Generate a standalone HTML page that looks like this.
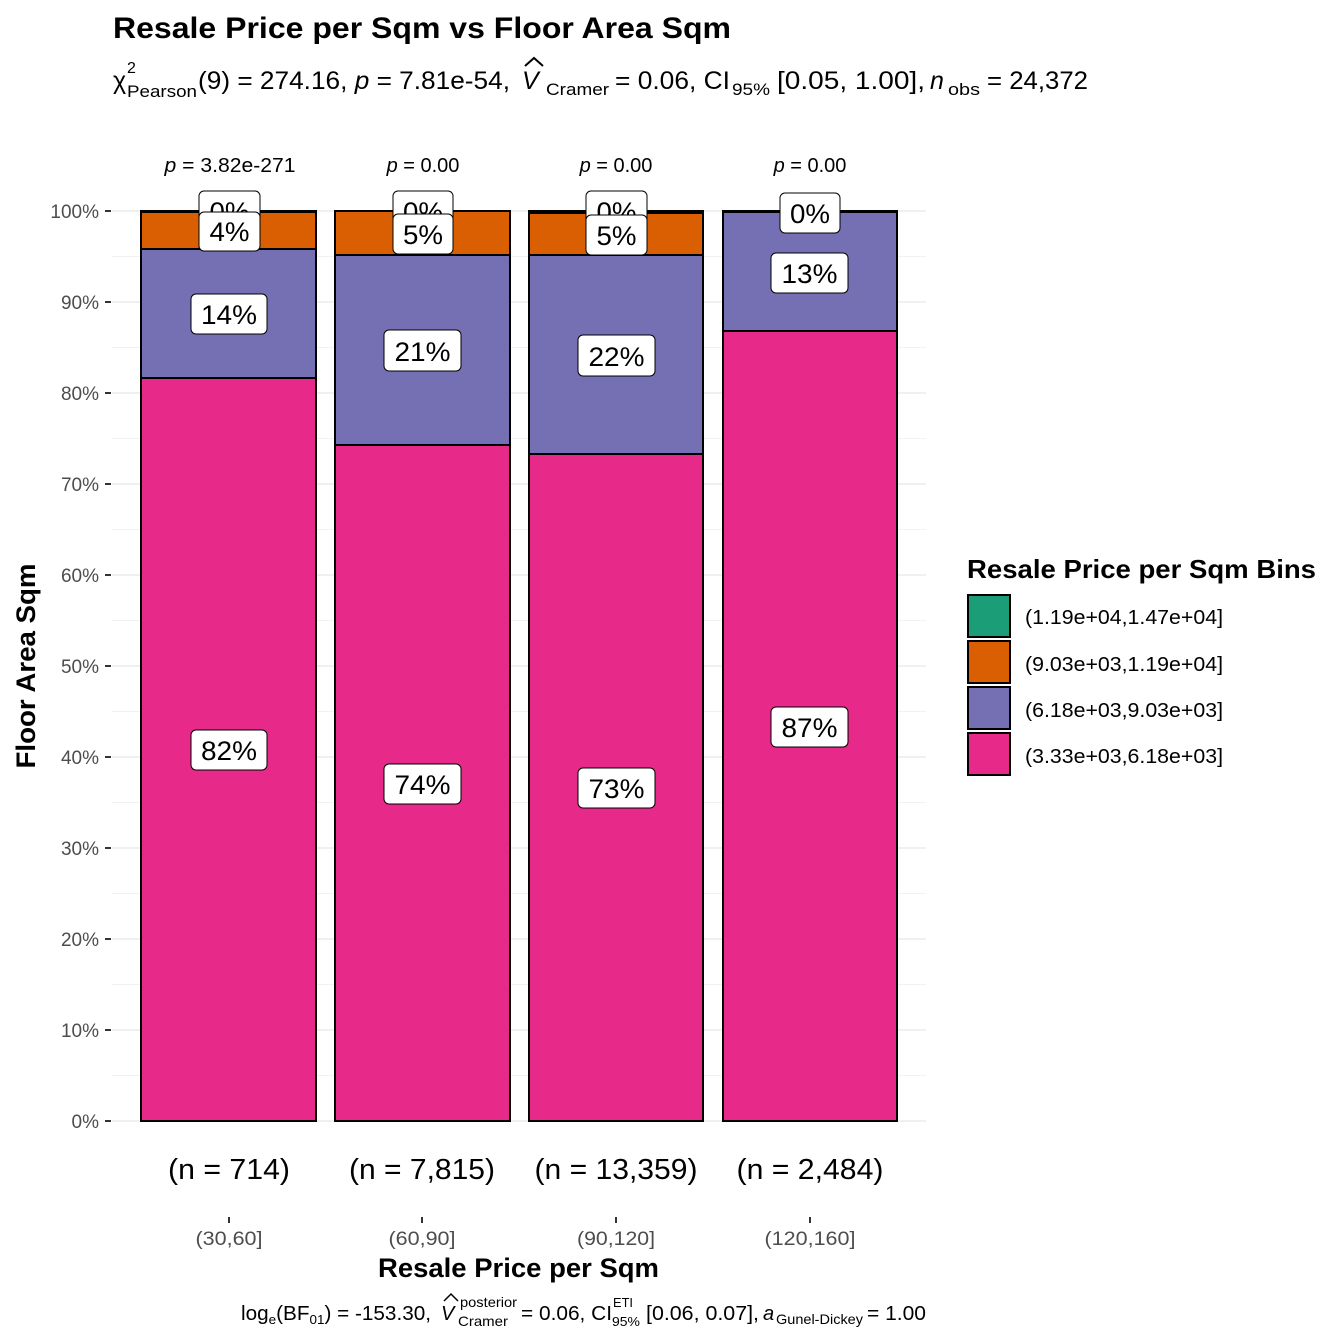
<!DOCTYPE html>
<html><head><meta charset="utf-8"><style>body{margin:0;background:#fff}svg{display:block}</style></head><body>
<svg width="1344" height="1344" viewBox="0 0 1344 1344" xmlns="http://www.w3.org/2000/svg" font-family="Liberation Sans, Arial, sans-serif">
<rect width="1344" height="1344" fill="#fff"/>
<text x="113" y="38" font-size="30" font-weight="bold" textLength="618" lengthAdjust="spacingAndGlyphs">Resale Price per Sqm vs Floor Area Sqm</text>
<g font-size="25">
<text x="113" y="89">χ</text>
<text x="127" y="73" font-size="16">2</text>
<text x="127" y="97" font-size="17" textLength="70" lengthAdjust="spacingAndGlyphs">Pearson</text>
<text x="198" y="89" textLength="312" lengthAdjust="spacingAndGlyphs">(9) = 274.16, <tspan font-style="italic">p</tspan> = 7.81e-54,</text>
<text x="522" y="89" font-style="italic">V</text>
<text x="546" y="95" font-size="17" textLength="63" lengthAdjust="spacingAndGlyphs">Cramer</text>
<text x="615" y="89" textLength="115" lengthAdjust="spacingAndGlyphs">= 0.06, CI</text>
<text x="732" y="95" font-size="17" textLength="38" lengthAdjust="spacingAndGlyphs">95%</text>
<text x="777" y="89" textLength="148" lengthAdjust="spacingAndGlyphs">[0.05, 1.00],</text>
<text x="930" y="89" font-style="italic">n</text>
<text x="948" y="95" font-size="17" textLength="32" lengthAdjust="spacingAndGlyphs">obs</text>
<text x="987" y="89" textLength="101" lengthAdjust="spacingAndGlyphs">= 24,372</text>
</g>
<path d="M525 66 L534 58 L543 66" fill="none" stroke="#000" stroke-width="2"/>
<g stroke="#ebebeb" stroke-width="1.5">
<line x1="112" x2="926" y1="1121" y2="1121"/><line x1="112" x2="926" y1="1030" y2="1030"/><line x1="112" x2="926" y1="939" y2="939"/><line x1="112" x2="926" y1="848" y2="848"/><line x1="112" x2="926" y1="757" y2="757"/><line x1="112" x2="926" y1="666" y2="666"/><line x1="112" x2="926" y1="575" y2="575"/><line x1="112" x2="926" y1="484" y2="484"/><line x1="112" x2="926" y1="393" y2="393"/><line x1="112" x2="926" y1="302" y2="302"/><line x1="112" x2="926" y1="211" y2="211"/>
</g>
<g stroke="#f2f2f2" stroke-width="1">
<line x1="112" x2="926" y1="1075.5" y2="1075.5"/><line x1="112" x2="926" y1="984.5" y2="984.5"/><line x1="112" x2="926" y1="893.5" y2="893.5"/><line x1="112" x2="926" y1="802.5" y2="802.5"/><line x1="112" x2="926" y1="711.5" y2="711.5"/><line x1="112" x2="926" y1="620.5" y2="620.5"/><line x1="112" x2="926" y1="529.5" y2="529.5"/><line x1="112" x2="926" y1="438.5" y2="438.5"/><line x1="112" x2="926" y1="347.5" y2="347.5"/><line x1="112" x2="926" y1="256.5" y2="256.5"/>
</g>
<g font-size="19" fill="#4d4d4d" text-anchor="end">
<text x="99" y="1128">0%</text><text x="99" y="1037">10%</text><text x="99" y="946">20%</text><text x="99" y="855">30%</text><text x="99" y="764">40%</text><text x="99" y="673">50%</text><text x="99" y="582">60%</text><text x="99" y="491">70%</text><text x="99" y="400">80%</text><text x="99" y="309">90%</text><text x="99" y="218">100%</text>
</g>
<g stroke="#333" stroke-width="2">
<line x1="105" x2="111" y1="1121" y2="1121"/><line x1="105" x2="111" y1="1030" y2="1030"/><line x1="105" x2="111" y1="939" y2="939"/><line x1="105" x2="111" y1="848" y2="848"/><line x1="105" x2="111" y1="757" y2="757"/><line x1="105" x2="111" y1="666" y2="666"/><line x1="105" x2="111" y1="575" y2="575"/><line x1="105" x2="111" y1="484" y2="484"/><line x1="105" x2="111" y1="393" y2="393"/><line x1="105" x2="111" y1="302" y2="302"/><line x1="105" x2="111" y1="211" y2="211"/>
<line x1="229" x2="229" y1="1217" y2="1223"/><line x1="422" x2="422" y1="1217" y2="1223"/><line x1="616" x2="616" y1="1217" y2="1223"/><line x1="810" x2="810" y1="1217" y2="1223"/>
</g>
<g stroke="#000" stroke-width="2">
<rect x="141" y="378" width="175" height="743" fill="#E7298A"/>
<rect x="141" y="249" width="175" height="129" fill="#7570B3"/>
<rect x="141" y="212" width="175" height="37" fill="#D95F02"/>
<rect x="141" y="211" width="175" height="1" fill="#1B9E77"/>
<rect x="335" y="445" width="175" height="676" fill="#E7298A"/>
<rect x="335" y="255" width="175" height="190" fill="#7570B3"/>
<rect x="335" y="211" width="175" height="44" fill="#D95F02"/>
<rect x="529" y="454" width="174" height="667" fill="#E7298A"/>
<rect x="529" y="255" width="174" height="199" fill="#7570B3"/>
<rect x="529" y="213" width="174" height="42" fill="#D95F02"/>
<rect x="529" y="211" width="174" height="2" fill="#1B9E77"/>
<rect x="723" y="331" width="174" height="790" fill="#E7298A"/>
<rect x="723" y="212" width="174" height="119" fill="#7570B3"/>
<rect x="723" y="211" width="174" height="1" fill="#1B9E77"/>
</g>
<g font-size="27" text-anchor="middle">
<g><rect x="199" y="191" width="61" height="40" rx="5" fill="#fff" stroke="#000"/><text x="229.5" y="221" textLength="40" lengthAdjust="spacingAndGlyphs">0%</text></g>
<g><rect x="199" y="212" width="61" height="39" rx="5" fill="#fff" stroke="#000"/><text x="229.5" y="241" textLength="40" lengthAdjust="spacingAndGlyphs">4%</text></g>
<g><rect x="191" y="294" width="76" height="40" rx="5" fill="#fff" stroke="#000"/><text x="229" y="324" textLength="56" lengthAdjust="spacingAndGlyphs">14%</text></g>
<g><rect x="191" y="730" width="76" height="40" rx="5" fill="#fff" stroke="#000"/><text x="229" y="760" textLength="56" lengthAdjust="spacingAndGlyphs">82%</text></g>
<g><rect x="393" y="191" width="60" height="40" rx="5" fill="#fff" stroke="#000"/><text x="423" y="221" textLength="40" lengthAdjust="spacingAndGlyphs">0%</text></g>
<g><rect x="393" y="214" width="60" height="40" rx="5" fill="#fff" stroke="#000"/><text x="423" y="244" textLength="40" lengthAdjust="spacingAndGlyphs">5%</text></g>
<g><rect x="384" y="330" width="77" height="41" rx="5" fill="#fff" stroke="#000"/><text x="422.5" y="361" textLength="56" lengthAdjust="spacingAndGlyphs">21%</text></g>
<g><rect x="384" y="764" width="77" height="40" rx="5" fill="#fff" stroke="#000"/><text x="422.5" y="794" textLength="56" lengthAdjust="spacingAndGlyphs">74%</text></g>
<g><rect x="586" y="191" width="61" height="40" rx="5" fill="#fff" stroke="#000"/><text x="616.5" y="221" textLength="40" lengthAdjust="spacingAndGlyphs">0%</text></g>
<g><rect x="586" y="215" width="61" height="40" rx="5" fill="#fff" stroke="#000"/><text x="616.5" y="245" textLength="40" lengthAdjust="spacingAndGlyphs">5%</text></g>
<g><rect x="578" y="335" width="77" height="41" rx="5" fill="#fff" stroke="#000"/><text x="616.5" y="366" textLength="56" lengthAdjust="spacingAndGlyphs">22%</text></g>
<g><rect x="578" y="768" width="77" height="40" rx="5" fill="#fff" stroke="#000"/><text x="616.5" y="798" textLength="56" lengthAdjust="spacingAndGlyphs">73%</text></g>
<g><rect x="780" y="193" width="60" height="40" rx="5" fill="#fff" stroke="#000"/><text x="810" y="223" textLength="40" lengthAdjust="spacingAndGlyphs">0%</text></g>
<g><rect x="771" y="253" width="77" height="40" rx="5" fill="#fff" stroke="#000"/><text x="809.5" y="283" textLength="56" lengthAdjust="spacingAndGlyphs">13%</text></g>
<g><rect x="771" y="707" width="77" height="40" rx="5" fill="#fff" stroke="#000"/><text x="809.5" y="737" textLength="56" lengthAdjust="spacingAndGlyphs">87%</text></g>
</g>
<g font-size="20" text-anchor="middle">
<text x="230" y="172" textLength="131" lengthAdjust="spacingAndGlyphs"><tspan font-style="italic">p</tspan> = 3.82e-271</text>
<text x="423" y="172"><tspan font-style="italic">p</tspan> = 0.00</text>
<text x="616" y="172"><tspan font-style="italic">p</tspan> = 0.00</text>
<text x="810" y="172"><tspan font-style="italic">p</tspan> = 0.00</text>
</g>
<g font-size="29" text-anchor="middle">
<text x="229" y="1179" textLength="122" lengthAdjust="spacingAndGlyphs">(n = 714)</text>
<text x="422" y="1179" textLength="146" lengthAdjust="spacingAndGlyphs">(n = 7,815)</text>
<text x="616" y="1179" textLength="163" lengthAdjust="spacingAndGlyphs">(n = 13,359)</text>
<text x="810" y="1179" textLength="147" lengthAdjust="spacingAndGlyphs">(n = 2,484)</text>
</g>
<g font-size="19" fill="#4d4d4d" text-anchor="middle">
<text x="229" y="1245" textLength="67" lengthAdjust="spacingAndGlyphs">(30,60]</text><text x="422" y="1245" textLength="67" lengthAdjust="spacingAndGlyphs">(60,90]</text><text x="616" y="1245" textLength="78" lengthAdjust="spacingAndGlyphs">(90,120]</text><text x="810" y="1245" textLength="91" lengthAdjust="spacingAndGlyphs">(120,160]</text>
</g>
<text x="518.5" y="1277" font-size="27" font-weight="bold" text-anchor="middle" textLength="281" lengthAdjust="spacingAndGlyphs">Resale Price per Sqm</text>
<text transform="translate(35,666) rotate(-90)" font-size="27" font-weight="bold" text-anchor="middle" textLength="205" lengthAdjust="spacingAndGlyphs">Floor Area Sqm</text>
<g font-size="20">
<text x="241" y="1320" textLength="190" lengthAdjust="spacingAndGlyphs">log<tspan font-size="13" dy="4">e</tspan><tspan dy="-4">(BF</tspan><tspan font-size="13" dy="4">01</tspan><tspan dy="-4">) = -153.30,</tspan></text>
<text x="441" y="1320" font-style="italic">V</text>
<text x="460" y="1307" font-size="14" textLength="57" lengthAdjust="spacingAndGlyphs">posterior</text>
<text x="458" y="1326" font-size="14" textLength="50" lengthAdjust="spacingAndGlyphs">Cramer</text>
<text x="521" y="1320" textLength="91" lengthAdjust="spacingAndGlyphs">= 0.06, CI</text>
<text x="613" y="1307" font-size="13" textLength="20" lengthAdjust="spacingAndGlyphs">ETI</text>
<text x="612" y="1326" font-size="13" textLength="28" lengthAdjust="spacingAndGlyphs">95%</text>
<text x="646" y="1320" textLength="113" lengthAdjust="spacingAndGlyphs">[0.06, 0.07],</text>
<text x="763" y="1320" font-style="italic">a</text>
<text x="776" y="1324" font-size="14" textLength="87" lengthAdjust="spacingAndGlyphs">Gunel-Dickey</text>
<text x="867" y="1320" textLength="59" lengthAdjust="spacingAndGlyphs">= 1.00</text>
</g>
<path d="M444 1301 L451 1294 L458 1301" fill="none" stroke="#000" stroke-width="1.5"/>
<text x="967" y="578" font-size="26" font-weight="bold" textLength="349" lengthAdjust="spacingAndGlyphs">Resale Price per Sqm Bins</text>
<g stroke="#000" stroke-width="2">
<rect x="968" y="595" width="42" height="42" fill="#1B9E77"/>
<rect x="968" y="641" width="42" height="42" fill="#D95F02"/>
<rect x="968" y="687" width="42" height="42" fill="#7570B3"/>
<rect x="968" y="733" width="42" height="42" fill="#E7298A"/>
</g>
<g font-size="20">
<text x="1025" y="624" textLength="198" lengthAdjust="spacingAndGlyphs">(1.19e+04,1.47e+04]</text>
<text x="1025" y="671" textLength="198" lengthAdjust="spacingAndGlyphs">(9.03e+03,1.19e+04]</text>
<text x="1025" y="717" textLength="198" lengthAdjust="spacingAndGlyphs">(6.18e+03,9.03e+03]</text>
<text x="1025" y="763" textLength="198" lengthAdjust="spacingAndGlyphs">(3.33e+03,6.18e+03]</text>
</g>
</svg>
</body></html>
